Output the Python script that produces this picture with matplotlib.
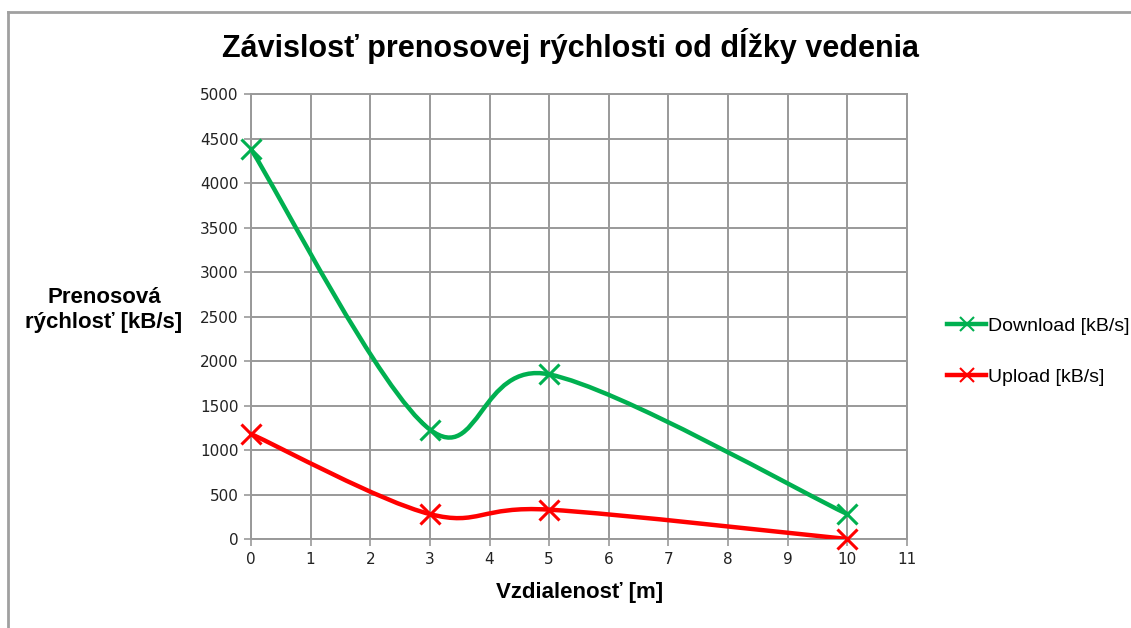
import matplotlib
matplotlib.use("Agg")
import matplotlib.pyplot as plt
from matplotlib.path import Path
from matplotlib.patches import PathPatch
from matplotlib.lines import Line2D

# ------------------------------------------------------------------
# Data
distance = [0, 3, 5, 10]
download = [4380, 1230, 1850, 280]
upload = [1180, 280, 330, 0]

x_ticks = list(range(0, 12))
y_ticks = list(range(0, 5001, 500))

title = "Závislosť prenosovej rýchlosti od dĺžky vedenia"
xlabel = "Vzdialenosť [m]"
ylabel = "Prenosová\nrýchlosť [kB/s]"
labels = ["Download [kB/s]", "Upload [kB/s]"]
colors = ["#00b050", "#ff0000"]

# ------------------------------------------------------------------
# Lil helper: Excel-like smoothed line as bezier path through the points

def smooth_path(xs, ys):
    pts = list(zip(xs, ys))
    verts = [pts[0]]
    codes = [Path.MOVETO]
    n = len(pts)
    for i in range(n - 1):
        p0 = pts[i - 1] if i > 0 else pts[i]
        p1 = pts[i]
        p2 = pts[i + 1]
        p3 = pts[i + 2] if i + 2 < n else pts[i + 1]
        c1 = (p1[0] + (p2[0] - p0[0]) / 6, p1[1] + (p2[1] - p0[1]) / 6)
        c2 = (p2[0] - (p3[0] - p1[0]) / 6, p2[1] - (p3[1] - p1[1]) / 6)
        verts += [c1, c2, p2]
        codes += [Path.CURVE4] * 3
    return Path(verts, codes)


plt.rcParams["font.family"] = ["Liberation Sans", "DejaVu Sans"]

fig = plt.figure(figsize=(11.31, 6.28), dpi=100)
ax = fig.add_axes([0.2219, 0.1417, 0.5800, 0.7086])

for ys, col, lab in zip([download, upload], colors, labels):
    ax.add_patch(PathPatch(smooth_path(distance, ys), facecolor="none",
                           edgecolor=col, linewidth=3.2, capstyle="round",
                           joinstyle="round", zorder=3))
    ax.plot(distance, ys, linestyle="none", marker="x", markersize=15,
            markeredgewidth=2.2, color=col, zorder=4, clip_on=False)

ax.set_xlim(0, 11)
ax.set_ylim(0, 5000)
ax.set_xticks(x_ticks)
ax.set_yticks(y_ticks)
ax.grid(True, color="#999999", linewidth=1.4)
ax.set_axisbelow(True)
for sp in ax.spines.values():
    sp.set_color("#999999")
    sp.set_linewidth(1.4)
ax.tick_params(axis="both", length=5, width=1.2, color="#999999",
               labelcolor="#222222", pad=4)
for t in ax.get_xticklabels() + ax.get_yticklabels():
    t.set_family(["DejaVu Sans"])
    t.set_fontsize(11)

fig.text(0.504, 0.926, title, ha="center", va="center", fontsize=22,
         fontweight="bold")
fig.text(0.512, 0.057, xlabel, ha="center", va="center", fontsize=16,
         fontweight="bold")
fig.text(0.092, 0.506, ylabel, ha="center", va="center", fontsize=16,
         fontweight="bold", linespacing=1.25)

handles = [Line2D([], [], color=c, linewidth=3.2, marker="x", markersize=10,
                  markeredgewidth=1.5) for c in colors]
fig.legend(handles, labels, loc="center left", bbox_to_anchor=(0.822, 0.44),
           frameon=False, fontsize=14, handlelength=2.0, handletextpad=0.1,
           labelspacing=1.7)

# gray frame edges (top and left only visible)
fig.add_artist(Line2D([0.0075, 0.0075], [0, 0.981], transform=fig.transFigure,
                      color="#a0a0a0", linewidth=2))
fig.add_artist(Line2D([0.0075, 1.0], [0.981, 0.981], transform=fig.transFigure,
                      color="#a0a0a0", linewidth=2))

fig.savefig("out.png", dpi=100)
